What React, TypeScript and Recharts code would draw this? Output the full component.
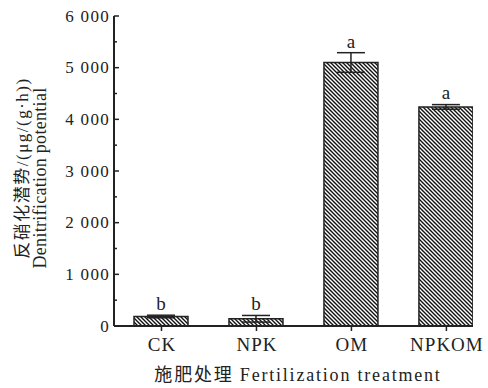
import * as React from 'react';
import { Bar, BarChart, ErrorBar, LabelList, XAxis, YAxis, Label } from 'recharts';

const categories = ['CK', 'NPK', 'OM', 'NPKOM'];
const potential = [184, 140, 5100, 4240];
const errors = [25, 64, 190, 45];
const letters = ['b', 'b', 'a', 'a'];
const yTicks = [0, 500, 1000, 1500, 2000, 2500, 3000, 3500, 4000, 4500, 5000, 5500, 6000];

const data = categories.map((name, i) => ({
  pos: i + 1,
  name,
  value: potential[i],
  err: errors[i],
  letter: letters[i],
}));

const INK = '#222';
const FONT = "'Liberation Serif', 'Noto Sans CJK SC', serif";

const fmt = (v: number) => (v >= 1000 ? `${Math.floor(v / 1000)} ${String(v % 1000).padStart(3, '0')}` : String(v));

function YTick(props: any) {
  const { x, y, payload } = props;
  const major = payload.value % 1000 === 0;
  return (
    <g>
      <line x1={x} x2={x + (major ? 5 : 3)} y1={y} y2={y} stroke={INK} strokeWidth={1.5} />
      {major && (
        <text x={x - 4} y={y} dy={5.5} textAnchor='end' fontSize={17} letterSpacing={1.3} fontFamily={FONT} fill={INK}>
          {fmt(payload.value)}
        </text>
      )}
    </g>
  );
}

function XTick(props: any) {
  const { x, y, payload } = props;
  return (
    <g>
      <line x1={x} x2={x} y1={y} y2={y + 5} stroke={INK} strokeWidth={1.5} />
      <text x={x + 0.5} y={y + 25} textAnchor='middle' fontSize={19} letterSpacing={1} fontFamily={FONT} fill={INK}>
        {categories[payload.value - 1]}
      </text>
    </g>
  );
}

export default function App() {
  return (
    <div style={{ position: 'absolute', left: 0, top: 0, background: '#fff' }}>
      <BarChart
        width={488}
        height={388}
        data={data}
        margin={{ top: 16, right: 15, bottom: 32, left: 54 }}
      >
        <defs>
          <pattern id='hatch' width={4} height={4} patternUnits='userSpaceOnUse'>
            <rect width={4} height={4} fill='#fff' />
            <path d='M-1,-1 L5,5 M-1,3 L1,5 M3,-1 L5,1' stroke='#111' strokeWidth={1.4} />
          </pattern>
        </defs>
        <XAxis
          dataKey='pos'
          type='number'
          domain={[0.5, 4.28]}
          ticks={[1, 2, 3, 4]}
          allowDataOverflow
          height={30}
          axisLine={{ stroke: INK, strokeWidth: 2 }}
          tickLine={false}
          tickSize={0}
          tickMargin={0}
          tick={<XTick />}
        >
          <Label
            content={() => (
              <text x={298} y={381} textAnchor='middle' fontSize={18} letterSpacing={1.8} fontFamily={FONT} fill={INK}>
                施肥处理 Fertilization treatment
              </text>
            )}
          />
        </XAxis>
        <YAxis
          type='number'
          domain={[0, 6000]}
          ticks={yTicks}
          interval={0}
          width={60}
          axisLine={{ stroke: INK, strokeWidth: 2 }}
          tickLine={false}
          tickSize={0}
          tickMargin={0}
          tick={<YTick />}
        >
          <Label
            content={() => (
              <g>
                <text
                  transform='translate(28,168) rotate(-90)'
                  textAnchor='middle'
                  fontSize={17}
                  letterSpacing={1.5}
                  fontFamily={FONT}
                  fill={INK}
                >
                  反硝化潜势/(μg/(g·h))
                </text>
                <text
                  transform='translate(46,178) rotate(-90)'
                  textAnchor='middle'
                  fontSize={18}
                  letterSpacing={0.3}
                  fontFamily={FONT}
                  fill={INK}
                >
                  Denitrification potential
                </text>
              </g>
            )}
          />
        </YAxis>
        <Bar
          dataKey='value'
          barSize={54}
          fill='url(#hatch)'
          stroke={INK}
          strokeWidth={1.5}
          isAnimationActive={false}
        >
          <ErrorBar dataKey='err' width={14} stroke={INK} strokeWidth={1.5} direction='y' />
          <LabelList
            dataKey='letter'
            content={(p: any) => {
              const i = p.index;
              const top = 325.5 - ((potential[i] + errors[i]) / 6000) * 309.5;
              return (
                <text x={p.x + p.width / 2} y={top - 5} textAnchor='middle' fontSize={19} fontFamily={FONT} fill={INK}>
                  {p.value}
                </text>
              );
            }}
          />
        </Bar>
      </BarChart>
    </div>
  );
}
